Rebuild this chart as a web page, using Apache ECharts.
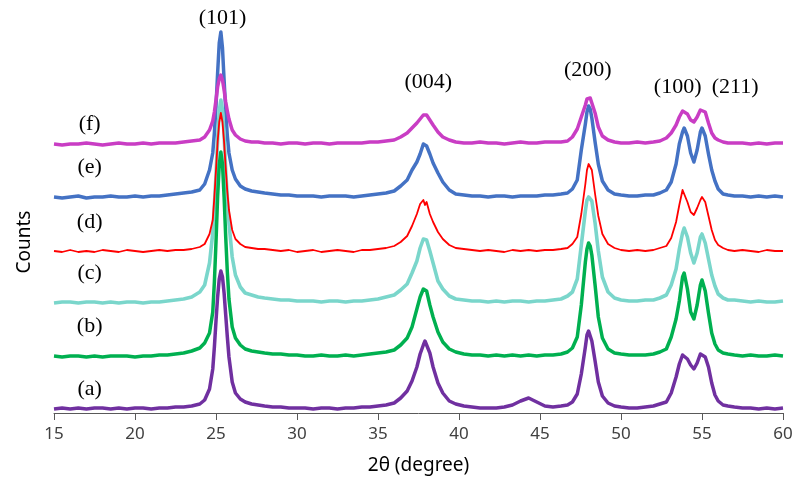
<!DOCTYPE html>
<html>
<head>
<meta charset="utf-8">
<title>XRD patterns</title>
<script src="https://cdn.jsdelivr.net/npm/echarts@6/dist/echarts.min.js"></script>
<style>
  html, body { margin: 0; padding: 0; background: #ffffff; }
  #chart { width: 797px; height: 491px; }
</style>
</head>
<body>
<div id="chart"></div>
<script>
// 2θ sampling positions (degree)
const twoTheta = [
  15, 15.5, 16, 16.5, 17, 17.5, 18, 18.5, 19, 19.5, 20, 20.5, 21, 21.5, 22, 22.5, 23, 23.5,
  24, 24.3, 24.6, 24.8, 24.9, 25.0, 25.1, 25.2, 25.3, 25.4, 25.5, 25.6, 25.7, 25.8, 26.0, 26.2, 26.5, 26.8,
  27.2, 27.6, 28, 28.5, 29, 29.5, 30, 30.5, 31, 31.5, 32, 32.5, 33, 33.5, 34, 34.5, 35, 35.5,
  36, 36.4, 36.8, 37.1, 37.4, 37.6, 37.8, 37.9, 38.0, 38.2, 38.4, 38.7, 39.0, 39.4, 39.8,
  40.3, 40.8, 41.3, 41.8, 42.3, 42.8, 43.3, 43.8, 44.3, 44.8, 45.3, 45.8, 46.3,
  46.7, 47.0, 47.3, 47.55, 47.8, 47.9, 48.0, 48.1, 48.2, 48.4, 48.6, 48.85, 49.2, 49.6,
  50.0, 50.5, 51.0, 51.5, 52.0, 52.4,
  52.8, 53.1, 53.4, 53.6, 53.8, 53.9, 54.1, 54.3, 54.5, 54.7, 54.9, 55.0, 55.2, 55.4, 55.6, 55.8, 56.0, 56.3, 56.6,
  57.0, 57.5, 58.0, 58.5, 59.0, 59.5, 60
];

// Intensity above each pattern's own baseline (a.u.)
const countsA = [
  0,1,0,1,0,1,1,0,1,0,1,1,0,1,1,2,2,3,
  5,9,20,40,62,88,112,130,138,132,116,94,72,52,27,16,10,7,
  5,4,3,2,2,1,1,1,0,1,1,0,1,1,2,2,3,4,
  6,11,18,28,42,55,64,68,67,56,42,26,16,8,5,
  3,2,1,1,1,2,4,8,11,7,3,2,3,
  4,7,15,35,62,74,78,76,68,48,27,13,6,3,
  2,1,1,2,3,5,
  7,16,32,45,54,56,50,44,40,46,55,57,52,42,26,14,8,4,3,
  2,1,1,0,1,0,1
];
const countsB = [
  1,0,1,1,0,1,0,1,1,1,0,1,1,2,2,3,4,6,
  9,14,24,45,75,115,160,192,205,193,160,120,85,58,30,19,12,8,
  6,5,4,3,3,2,2,1,1,2,1,1,2,1,2,3,4,5,
  7,12,19,30,48,60,68,70,66,52,40,25,15,8,5,
  3,2,2,1,2,1,2,1,2,1,2,2,3,
  5,9,20,52,95,108,114,111,102,72,40,19,8,4,
  3,2,2,2,3,5,
  8,20,38,56,80,84,68,45,38,52,72,77,66,44,24,13,7,4,3,
  2,1,2,1,1,2,1
];
const countsC = [
  0,1,1,0,1,1,0,1,0,1,1,0,1,1,2,3,4,6,
  11,18,40,70,98,128,163,192,203,193,168,132,105,80,46,28,16,10,
  8,6,5,4,3,3,2,2,2,1,2,2,1,2,2,3,4,6,
  8,13,19,30,42,55,64,66,63,52,40,22,14,7,4,
  3,2,2,1,2,1,2,2,1,2,2,3,4,
  7,11,24,58,92,103,106,107,102,80,52,26,11,5,
  3,2,2,3,3,5,
  8,18,34,54,70,75,66,50,40,50,66,69,60,44,28,17,9,5,3,
  3,2,1,2,1,1,2
];
const countsD = [
  1,0,2,0,1,0,2,1,0,2,1,0,1,2,1,2,2,3,
  5,8,18,32,55,82,110,130,139,130,110,84,60,42,22,13,8,5,
  4,3,3,2,1,2,0,1,2,0,1,2,1,0,2,2,3,4,
  6,10,16,26,38,48,52,47,50,38,30,20,13,7,4,
  3,2,1,2,1,0,2,1,2,1,2,2,3,
  4,8,15,38,68,82,88,89,82,58,36,18,8,4,
  2,1,2,1,2,4,
  6,14,30,47,62,63,50,40,37,44,52,55,50,36,22,12,7,4,2,
  1,2,1,0,2,1,1
];
const countsE = [
  1,0,1,2,0,1,1,2,1,1,2,1,2,2,3,4,5,6,
  8,14,28,45,65,92,125,155,166,150,118,88,62,45,28,19,12,9,
  7,6,5,4,3,3,2,2,2,1,2,2,2,1,2,3,4,5,
  7,12,18,28,36,44,54,56,52,44,35,25,16,8,4,
  3,2,2,1,2,2,1,2,2,2,3,3,4,
  5,9,18,48,74,86,92,89,80,56,34,17,8,4,
  3,2,2,3,3,5,
  8,16,34,54,66,70,62,45,36,48,66,70,62,44,28,17,9,4,3,
  2,2,1,2,1,2,1
];
const countsF = [
  1,0,1,1,2,1,0,1,2,1,1,2,1,2,2,2,3,4,
  5,8,15,24,33,45,58,66,70,65,55,43,34,26,15,10,6,4,
  3,3,2,2,1,2,2,1,2,2,1,2,2,2,2,3,3,4,
  5,8,12,17,22,26,30,31,30,25,20,13,8,5,3,
  2,2,3,2,2,1,2,3,2,2,3,3,3,
  4,8,16,28,40,46,48,47,42,32,18,9,5,3,
  2,2,3,2,3,4,
  7,12,20,28,34,35,31,25,23,28,35,37,33,22,12,7,5,3,2,
  2,2,1,2,1,2,2
];

// Vertical stacking offset of each pattern (a.u.)
const offsets = [4, 56, 110, 161, 215, 268];
const sampleNames = ['(a)', '(b)', '(c)', '(d)', '(e)', '(f)'];
const peakNames = ['(101)', '(004)', '(200)', '(100)', '(211)'];
const xTicks = [15, 20, 25, 30, 35, 40, 45, 50, 55, 60];

const patterns = [countsA, countsB, countsC, countsD, countsE, countsF];
const colors = ['#7030A0', '#00B050', '#7AD6CB', '#FF0000', '#4472C4', '#C93DC4'];
const widths = [3.5, 3.5, 3.6, 1.8, 3.5, 3.5];
// drawing order, bottom to top
const drawOrder = [4, 5, 2, 3, 1, 0];

const chart = echarts.init(document.getElementById('chart'), null, { renderer: 'canvas' });

const series = drawOrder.map(function (k) {
  return {
    name: sampleNames[k],
    type: 'line',
    showSymbol: false,
    symbol: 'none',
    smooth: false,
    animation: false,
    lineStyle: { color: colors[k], width: widths[k], join: 'round' },
    data: twoTheta.map(function (t, i) { return [t, offsets[k] + patterns[k][i]]; })
  };
});

const option = {
  animation: false,
  backgroundColor: '#ffffff',
  grid: { left: 54, right: 14, top: 13, bottom: 78 },
  xAxis: {
    type: 'value',
    min: xTicks[0],
    max: xTicks[xTicks.length - 1],
    interval: 5,
    name: '2θ (degree)',
    nameLocation: 'middle',
    nameGap: 43,
    nameTextStyle: { fontSize: 19, color: '#000000', fontFamily: 'Noto Sans' },
    axisLine: { show: true, lineStyle: { color: '#595959', width: 1 } },
    axisTick: { show: true, inside: false, length: 7, lineStyle: { color: '#595959' } },
    axisLabel: { fontSize: 17, color: '#404040', margin: 13, fontFamily: 'Noto Sans' },
    splitLine: { show: false }
  },
  yAxis: {
    type: 'value',
    min: 0,
    max: 400,
    show: false
  },
  series: series
};

chart.setOption(option);

// Annotations anchored in data coordinates
const serif = '22px "Liberation Serif", "Times New Roman", serif';
const sampleLabelAt = [[17.2, 24], [17.2, 87], [17.2, 140], [17.2, 191], [17.2, 246], [17.2, 289]];
const peakLabelAt = [[25.4, 395], [38.1, 331], [47.95, 343], [53.5, 326], [57.05, 326]];

function textAt(txt, pos, font) {
  const p = chart.convertToPixel({ gridIndex: 0 }, pos);
  return {
    type: 'text',
    x: p[0],
    y: p[1],
    silent: true,
    style: {
      text: txt,
      font: font,
      fill: '#000000',
      align: 'center',
      verticalAlign: 'middle',
      textAlign: 'center',
      textVerticalAlign: 'middle'
    }
  };
}

const graphics = [];
sampleNames.forEach(function (s, i) { graphics.push(textAt(s, sampleLabelAt[i], serif)); });
peakNames.forEach(function (s, i) { graphics.push(textAt(s, peakLabelAt[i], serif)); });
graphics.push({
  type: 'text',
  x: 25,
  y: 242,
  rotation: Math.PI / 2,
  silent: true,
  style: {
    text: 'Counts',
    font: '19px "Noto Sans", sans-serif',
    fill: '#000000',
    align: 'center',
    verticalAlign: 'middle',
    textAlign: 'center',
    textVerticalAlign: 'middle'
  }
});

chart.setOption({ graphic: { elements: graphics } });
</script>
</body>
</html>
